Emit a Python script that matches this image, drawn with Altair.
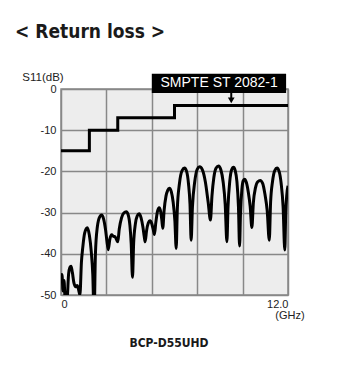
import altair as alt
import pandas as pd

# S11 return-loss curve (GHz, dB)
freq = [0.00, 0.05, 0.11, 0.16, 0.22, 0.32, 0.40, 0.47, 0.53, 0.60, 0.68, 0.78, 0.86, 0.92, 1.00,
        1.08, 1.15, 1.25, 1.39, 1.50, 1.60, 1.68, 1.75,
        1.82, 1.92, 2.05, 2.15, 2.25, 2.35, 2.43, 2.50,
        2.58, 2.68, 2.78, 2.85, 2.93, 3.00,
        3.08, 3.20, 3.32, 3.45, 3.55, 3.64, 3.71, 3.78,
        3.84, 3.93, 4.03, 4.13, 4.23, 4.33, 4.40, 4.45,
        4.52, 4.61, 4.71, 4.80, 4.88, 4.94,
        5.01, 5.10, 5.19, 5.27, 5.33, 5.38,
        5.45, 5.55, 5.64, 5.73, 5.83, 5.93, 6.02, 6.09,
        6.15, 6.26, 6.40, 6.53, 6.64, 6.74, 6.82, 6.88,
        6.95, 7.07, 7.20, 7.33, 7.48, 7.63, 7.78, 7.90,
        7.98, 8.08, 8.20, 8.33, 8.45, 8.57, 8.68, 8.77,
        8.83, 8.92, 9.02, 9.12, 9.21, 9.30, 9.38, 9.44,
        9.49, 9.56, 9.63, 9.70, 9.80, 9.90, 10.00, 10.09,
        10.17, 10.28, 10.40, 10.53, 10.66, 10.78, 10.90, 11.01,
        11.08, 11.18, 11.30, 11.42, 11.53, 11.64, 11.74, 11.83,
        11.88, 11.94, 12.00]
s11 = [-47.0, -45.0, -49.0, -46.5, -51.0, -51.0, -45.0, -43.3, -43.0, -44.5, -47.0, -48.0, -47.7, -48.5, -50.0,
       -42.0, -38.5, -35.0, -33.7, -35.5, -39.5, -45.0, -55.0,
       -40.0, -33.5, -31.0, -30.6, -31.5, -34.0, -37.0, -39.0,
       -36.5, -35.4, -35.8, -35.8, -36.5, -37.1,
       -34.0, -31.3, -30.1, -29.8, -30.5, -33.0, -37.5, -45.7,
       -37.5, -32.8, -30.8, -30.3, -31.2, -33.5, -35.8, -37.1,
       -34.5, -32.6, -32.0, -32.7, -34.2, -35.3,
       -32.5, -29.7, -28.8, -29.8, -31.8, -33.8,
       -29.5, -26.0, -24.6, -24.1, -24.9, -27.5, -32.0, -38.7,
       -29.0, -23.0, -19.8, -19.2, -20.0, -23.0, -28.0, -36.7,
       -28.5, -22.5, -19.5, -18.9, -19.7, -22.5, -27.5, -31.8,
       -26.0, -21.5, -19.2, -18.7, -19.6, -22.5, -28.0, -37.1,
       -28.5, -22.5, -19.6, -19.0, -19.8, -22.5, -28.5, -38.1,
       -30.0, -24.5, -22.3, -21.9, -22.7, -25.0, -28.5, -33.6,
       -27.5, -24.0, -22.5, -22.2, -22.9, -25.5, -29.5, -36.7,
       -27.5, -22.5, -19.8, -19.2, -20.0, -23.0, -28.5, -39.1,
       -30.0, -25.5, -23.5]

# SMPTE ST 2082-1 limit (step)
limit_freq = [0, 1.5, 3, 6, 12]
limit_db = [-15, -10, -7, -4, -4]

x_ticks = [0, 1.2, 2.4, 3.6, 4.8, 6, 7.2, 8.4, 9.6, 10.8, 12]
y_ticks = [0, -5, -10, -15, -20, -25, -30, -35, -40, -45, -50]

curve = pd.DataFrame({"f": freq, "db": s11})
limit = pd.DataFrame({"f": limit_freq, "db": limit_db})

FONT = "Liberation Sans"
COND = "'DejaVu Sans Condensed', 'DejaVu Sans', sans-serif"
GRID = "#888888"

xscale = alt.Scale(domain=[0, 12], nice=False, zero=False)
yscale = alt.Scale(domain=[-50, 0], nice=False, zero=False)

x_axis = alt.Axis(values=x_ticks, title=None, grid=True, gridColor=GRID, gridWidth=1.5,
                  gridOpacity=1, domain=False, ticks=False, labelPadding=3,
                  labelOverlap=False, labelFont=FONT, labelFontSize=11, labelColor="#222",
                  labelExpr="datum.value == 0 ? '0' : (datum.value == 6 ? '6' : (datum.value == 12 ? '12.0' : ''))")
y_axis = alt.Axis(values=y_ticks, title=None, grid=True, gridColor=GRID, gridWidth=1.5,
                  gridOpacity=1, domain=False, ticks=False, labelPadding=5,
                  labelOverlap=False, labelFont=FONT, labelFontSize=11, labelColor="#222",
                  labelExpr="datum.value % 10 == 0 ? '' + datum.value : ''")

base_curve = alt.Chart(curve).mark_line(color="black", strokeWidth=3, clip=True,
                                         interpolate="monotone").encode(
    x=alt.X("f:Q", scale=xscale, axis=x_axis),
    y=alt.Y("db:Q", scale=yscale, axis=y_axis),
)

limit_line = alt.Chart(limit).mark_line(color="black", strokeWidth=3,
                                         interpolate="step-after").encode(
    x=alt.X("f:Q", scale=xscale),
    y=alt.Y("db:Q", scale=yscale),
)

# annotation box "SMPTE ST 2082-1" with arrow at 9 GHz
box = alt.Chart(pd.DataFrame({"x1": [4.8], "x2": [11.9], "y1": [3.7], "y2": [-0.97]})).mark_rect(
    color="black").encode(
    x=alt.X("x1:Q", scale=xscale), x2="x2:Q",
    y=alt.Y("y1:Q", scale=yscale), y2="y2:Q",
)
box_text = alt.Chart(pd.DataFrame({"x": [8.36], "y": [1.4], "t": ["SMPTE ST 2082-1"]})).mark_text(
    color="white", font=FONT, fontSize=14, baseline="middle", align="center").encode(
    x=alt.X("x:Q", scale=xscale), y=alt.Y("y:Q", scale=yscale), text="t:N")
arrow_stem = alt.Chart(pd.DataFrame({"x": [9.0], "y1": [-0.9], "y2": [-2.4]})).mark_rule(
    color="black", strokeWidth=2).encode(
    x=alt.X("x:Q", scale=xscale), y=alt.Y("y1:Q", scale=yscale), y2="y2:Q")
arrow_head = alt.Chart(pd.DataFrame({"x": [9.0], "y": [-2.75]})).mark_point(
    shape="triangle-down", filled=True, color="black", size=45, opacity=1).encode(
    x=alt.X("x:Q", scale=xscale), y=alt.Y("y:Q", scale=yscale))

title = alt.Chart(pd.DataFrame({"t": ["< Return loss >"]})).mark_text(
    font=COND, fontWeight="bold", fontSize=19,
    align="left", baseline="alphabetic", color="#1a1a1a").encode(
    x=alt.value(-46), y=alt.value(-51), text="t:N")
ylab = alt.Chart(pd.DataFrame({"t": ["S11(dB)"]})).mark_text(
    font=FONT, fontSize=11.5, align="center", baseline="alphabetic", color="#222").encode(
    x=alt.value(-18), y=alt.value(-8), text="t:N")
xunit = alt.Chart(pd.DataFrame({"t": ["(GHz)"]})).mark_text(
    font=FONT, fontSize=11, align="center", baseline="middle", color="#222").encode(
    x=alt.value(229), y=alt.value(227), text="t:N")
model = alt.Chart(pd.DataFrame({"t": ["BCP-D55UHD"]})).mark_text(
    font=COND, fontWeight="bold", fontSize=12, align="center",
    baseline="alphabetic", color="#1a1a1a").encode(
    x=alt.value(108), y=alt.value(258), text="t:N")

chart = alt.layer(base_curve, limit_line, box, box_text, arrow_stem, arrow_head,
                  title, ylab, xunit, model).properties(
    width=227, height=206,
    autosize=alt.AutoSizeParams(type="none"),
    padding={"left": 53, "top": 81, "right": 60, "bottom": 70},
    background="white",
).configure_view(fill="#ededed", stroke=GRID, strokeWidth=1.5)

chart.save("out.html", embed_options={"renderer": "svg", "actions": False})
